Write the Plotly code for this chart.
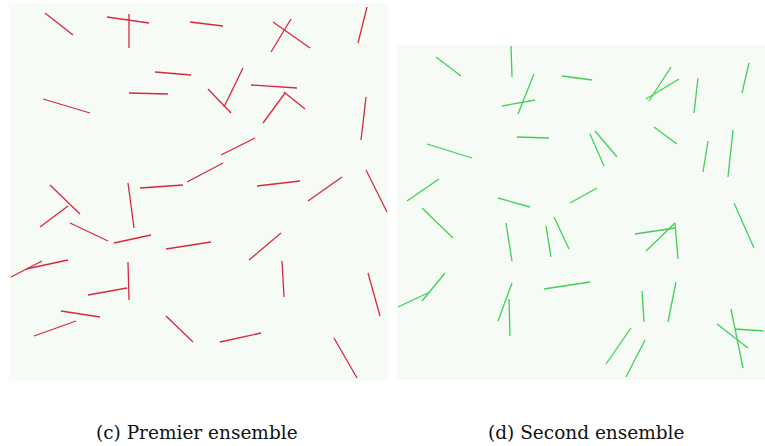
import plotly.graph_objects as go

# Left panel ("Premier ensemble") segments: x0, y0, x1, y1 (image pixel units)
red_x0 = [45, 107, 129, 190, 155, 129, 43, 50, 128, 140, 187,
          273, 291, 367, 243, 208, 251, 284, 285, 366, 255, 257, 342, 366,
          68, 70, 114, 166, 11, 26, 128, 88, 61, 76, 166,
          281, 282, 368, 220, 334]
red_y0 = [13, 17, 14, 22, 72, 93, 99, 185, 183, 188, 182,
          22, 19, 7, 68, 89, 85, 92, 93, 97, 138, 186, 177, 170,
          206, 223, 243, 249, 277, 269, 262, 295, 311, 321, 316,
          233, 261, 273, 342, 338]
red_x1 = [73, 149, 129, 223, 191, 168, 90, 80, 134, 183, 223,
          310, 271, 358, 224, 231, 297, 305, 263, 361, 221, 300, 308, 387,
          40, 108, 151, 211, 42, 68, 129, 127, 100, 34, 193,
          249, 284, 380, 261, 357]
red_y1 = [35, 23, 48, 26, 75, 94, 113, 214, 228, 185, 163,
          48, 52, 43, 107, 113, 88, 109, 123, 140, 155, 181, 201, 212,
          227, 241, 235, 242, 261, 260, 300, 288, 317, 336, 342,
          260, 297, 316, 333, 378]

# Right panel ("Second ensemble") segments
green_x0 = [436, 511, 534, 502, 562, 517, 427, 439, 498, 570, 422,
            671, 679, 698, 749, 654, 590, 595, 708, 733, 734,
            506, 546, 554, 445, 398, 512, 509, 544,
            635, 675, 675, 642, 676, 631, 645, 731, 717, 735]
green_y0 = [57, 46, 74, 106, 76, 137, 144, 179, 198, 203, 208,
            67, 79, 78, 63, 127, 134, 131, 141, 130, 203,
            223, 226, 217, 273, 307, 283, 299, 289,
            234, 223, 223, 291, 282, 328, 340, 309, 324, 329]
green_x1 = [461, 512, 518, 535, 592, 549, 472, 407, 530, 597, 453,
            649, 646, 694, 742, 677, 604, 617, 703, 728, 754,
            512, 551, 569, 422, 430, 498, 510, 590,
            675, 646, 678, 644, 668, 606, 626, 743, 748, 764]
green_y1 = [76, 77, 114, 100, 80, 138, 158, 201, 207, 188, 238,
            101, 99, 113, 93, 144, 166, 157, 172, 177, 248,
            261, 257, 249, 301, 292, 321, 336, 282,
            228, 251, 259, 322, 322, 364, 377, 368, 348, 331]

captions = ["(c) Premier ensemble", "(d) Second ensemble"]

W, H = 765, 446
LEFT = dict(x=(9, 388), y=(3, 381))
RIGHT = dict(x=(397, 765), y=(45, 380))


def seg_xy(x0, y0, x1, y1):
    xs, ys = [], []
    for a, b, c, d in zip(x0, y0, x1, y1):
        xs += [a, c, None]
        ys += [b, d, None]
    return xs, ys


fig = go.Figure()
rx, ry = seg_xy(red_x0, red_y0, red_x1, red_y1)
gx, gy = seg_xy(green_x0, green_y0, green_x1, green_y1)
fig.add_trace(go.Scatter(x=rx, y=ry, mode="lines", xaxis="x", yaxis="y",
                         line=dict(color="#d8283e", width=1.3), hoverinfo="skip",
                         showlegend=False))
fig.add_trace(go.Scatter(x=gx, y=gy, mode="lines", xaxis="x2", yaxis="y2",
                         line=dict(color="#3fd055", width=1.3), hoverinfo="skip",
                         showlegend=False))


def dom_x(p):
    return [p["x"][0] / W, p["x"][1] / W]


def dom_y(p):
    return [1 - p["y"][1] / H, 1 - p["y"][0] / H]


ax = dict(showgrid=False, zeroline=False, showticklabels=False, ticks="",
          showline=False, fixedrange=True)
fig.update_layout(
    width=W, height=H, margin=dict(l=0, r=0, t=0, b=0),
    paper_bgcolor="white", plot_bgcolor="#f6fbf5",
    xaxis=dict(ax, domain=dom_x(LEFT), range=list(LEFT["x"])),
    yaxis=dict(ax, domain=dom_y(LEFT), range=[LEFT["y"][1], LEFT["y"][0]]),
    xaxis2=dict(ax, domain=dom_x(RIGHT), range=list(RIGHT["x"]), anchor="y2"),
    yaxis2=dict(ax, domain=dom_y(RIGHT), range=[RIGHT["y"][1], RIGHT["y"][0]], anchor="x2"),
)

for txt, cx in zip(captions, [197, 586]):
    fig.add_annotation(text=txt, x=cx / W, y=1 - 432 / H, xref="paper", yref="paper",
                       showarrow=False, xanchor="center", yanchor="middle",
                       font=dict(family="DejaVu Serif", size=18.5, color="#111111"))

fig.write_html("out.html", config={"displayModeBar": False},
               post_script="document.body.style.margin='0';document.body.style.overflow='hidden';")
